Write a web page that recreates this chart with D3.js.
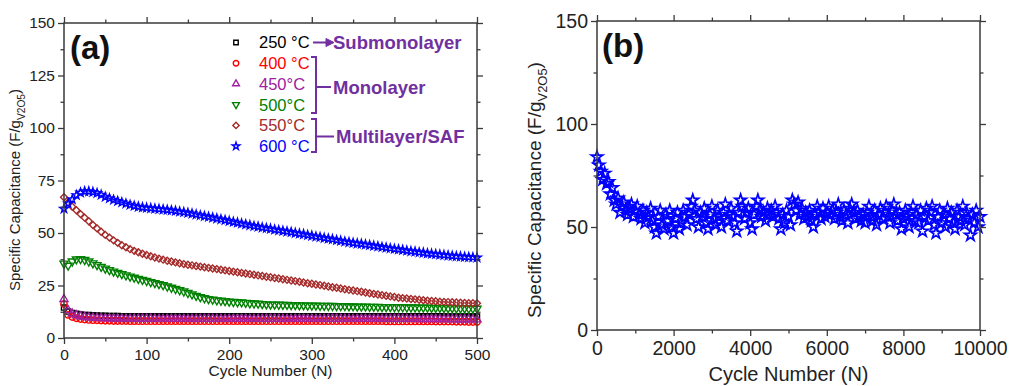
<!DOCTYPE html>
<html><head><meta charset="utf-8">
<script src="https://cdn.jsdelivr.net/npm/d3@7"></script>
<style>
body{margin:0;background:#fff;}
svg{display:block;font-family:"Liberation Sans",Arial,sans-serif;}
</style>
</head><body>
<svg id="chart" width="1009" height="386"></svg>
<script>
// ---------------- Panel (a) data ----------------
const cyclesA = d3.range(0, 501, 5);
const cap250 = [14.5,12.6,11.9,11.5,11.2,11,10.9,10.8,10.7,10.6,
10.6,10.5,10.5,10.5,10.4,10.4,10.4,10.4,10.3,10.3,
10.3,10.3,10.3,10.3,10.3,10.3,10.3,10.3,10.3,10.3,
10.3,10.3,10.3,10.3,10.3,10.3,10.3,10.3,10.3,10.3,
10.3,10.3,10.4,10.4,10.4,10.4,10.4,10.4,10.4,10.4,
10.4,10.4,10.4,10.4,10.4,10.4,10.4,10.4,10.4,10.4,
10.4,10.4,10.4,10.4,10.4,10.4,10.4,10.4,10.4,10.4,
10.3,10.3,10.3,10.3,10.3,10.3,10.3,10.3,10.3,10.3,
10.3,10.3,10.3,10.3,10.3,10.3,10.3,10.3,10.3,10.3,
10.3,10.3,10.2,10.2,10.2,10.2,10.2,10.2,10.2,10.2,
10.2];
const cap400 = [16.2,11,10,9.4,9,8.8,8.6,8.5,8.4,8.3,
8.2,8.2,8.1,8.1,8.1,8.1,8,8,8,8,
8,8,8,8,8,8,8,8,8,8,
8,8,8,8,8,8,8,8,8,8,
8,8,8,8,8,8,8,8,8,8,
8,8,8,8,8,8,8,8,8,8,
8,8,8,8,8,8,8,8,8,8,
8,8,8,8,8,8,8,8,7.9,7.9,
7.9,7.9,7.9,7.9,7.9,7.9,7.9,7.9,7.9,7.9,
7.8,7.8,7.8,7.8,7.8,7.7,7.7,7.7,7.6,7.6,
7.6];
const cap450 = [18.5,13.2,11.6,10.8,10.3,10,9.8,9.6,9.5,9.4,
9.3,9.3,9.2,9.2,9.2,9.1,9.1,9.1,9.1,9.1,
9.1,9.1,9.1,9,9,9,9,9,9,9,
9,9,9,9,9,9,9,9,9,9,
9,9,9,9,9,9,9,9,9,9,
9,9,9,9,9,9,9,9,9,9,
9,9,9,9,9,9,9,9,9,9,
9,9,9,9,9,9,9,9,9,9,
9,9,9,9,9,9,8.9,8.9,8.9,8.9,
8.9,8.9,8.9,8.9,8.9,8.8,8.8,8.8,8.8,8.8,
8.8];
const cap500 = [35.5,34.5,36.5,37.5,37.6,37.2,36.5,35.6,34.8,33.9,
33.1,32.4,31.7,31.1,30.5,29.9,29.3,28.8,28.2,27.7,
27.2,26.7,26.2,25.7,25.2,24.6,24,23.4,22.8,22.2,
21.5,20.8,20.1,19.5,19,18.6,18.3,18,17.8,17.6,
17.4,17.2,17.1,17,16.8,16.6,16.5,16.4,16.2,16.1,
16,16,15.9,15.8,15.8,15.7,15.7,15.6,15.6,15.5,
15.5,15.5,15.4,15.4,15.3,15.3,15.2,15.2,15.2,15.1,
15.1,15,15,15,14.9,14.9,14.9,14.8,14.8,14.8,
14.7,14.7,14.7,14.6,14.6,14.6,14.5,14.5,14.5,14.4,
14.4,14.4,14.3,14.3,14.3,14.2,14.2,14.2,14.1,14.1,
14];
const cap550 = [67,64.5,62.5,60.8,59,57.3,55.6,53.8,52.2,50.6,
49.1,47.8,46.5,45.3,44.2,43.2,42.3,41.5,40.8,40.1,
39.5,38.9,38.3,37.8,37.3,36.8,36.4,36,35.6,35.2,
34.9,34.6,34.3,34,33.7,33.4,33.1,32.8,32.5,32.2,
31.9,31.6,31.3,31,30.7,30.4,30.1,29.8,29.5,29.2,
28.9,28.6,28.3,28,27.7,27.4,27.1,26.8,26.4,26.1,
25.8,25.5,25.2,24.9,24.5,24.2,23.9,23.6,23.2,22.9,
22.6,22.3,22,21.7,21.3,21,20.7,20.4,20.1,19.8,
19.5,19.2,19,18.8,18.6,18.4,18.2,18,17.8,17.6,
17.5,17.3,17.2,17.1,17,16.9,16.8,16.7,16.6,16.6,
16.5];
const cap600 = [61.5,64,66,68,69.2,69.8,69.8,69.5,69,68.2,
67.2,66.5,65.8,65.2,64.6,64,63.4,62.9,62.5,62.2,
62,61.8,61.6,61.4,61.2,61,60.8,60.5,60.2,59.9,
59.6,59.2,58.8,58.4,58,57.7,57.3,56.9,56.5,56.1,
55.7,55.3,54.9,54.5,54.1,53.7,53.3,53,52.6,52.3,
52,51.6,51.3,51,50.7,50.4,50,49.7,49.4,49,
48.7,48.3,48,47.6,47.3,47,46.6,46.3,45.9,45.6,
45.3,45,44.8,44.5,44.2,43.9,43.6,43.3,43,42.7,
42.4,42.2,41.9,41.6,41.3,41.1,40.8,40.6,40.3,40.1,
39.9,39.7,39.5,39.3,39.1,38.9,38.8,38.6,38.5,38.4,
38.3];
const seriesLabels = ["250 \u00B0C","400 \u00B0C","450\u00B0C","500\u00B0C","550\u00B0C","600 \u00B0C"];
const seriesColors = ["#000000","#ff0000","#a020a0","#008000","#a52a2a","#0000ff"];
const seriesValues = [cap250, cap400, cap450, cap500, cap550, cap600];
const seriesShapes = ["square","circle","triangle","triangleDown","diamond","star"];
const xTicksA = [0,100,200,300,400,500];
const xMinorA = [50,150,250,350,450];
const yTicksA = [0,25,50,75,100,125,150];
const yMinorA = [12.5,37.5,62.5,87.5,112.5,137.5];
const groupLabels = ["Submonolayer","Monolayer","Multilayer/SAF"];

// ---------------- Panel (b) data ----------------
const cyclesB = d3.range(0, 10001, 50);
const cap600Long = [84,80,77,73,76,71,72,66,69,63,61,
64,57,60,62,58,56,59,61,55,58,
60,56,54,58,52,57,55,59,53,50,
47,55,58,51,49,56,53,58,50,47,
54,57,49,52,58,55,51,56,60,63,
58,54,50,57,55,59,52,49,56,60,
54,51,58,55,50,57,61,53,56,59,
55,52,48,57,63,60,54,57,59,52,
49,56,60,63,58,55,57,53,59,56,
58,55,60,57,54,49,56,52,58,55,
51,63,61,58,62,56,59,54,57,55,
58,53,50,56,60,57,54,59,55,57,
60,56,58,54,57,61,55,53,58,56,
52,59,61,57,54,58,55,53,56,52,
57,60,55,53,58,51,56,59,54,57,
60,55,52,58,61,56,53,57,49,54,
58,55,50,57,60,53,56,52,58,48,
55,59,53,57,60,51,47,55,58,52,
56,50,59,54,57,52,49,58,55,53,
60,51,57,54,46,56,52,58,50,55];
const xTicksB = [0,2000,4000,6000,8000,10000];
const xMinorB = [1000,3000,5000,7000,9000];
const yTicksB = [0,50,100,150];
const yMinorB = [25,75,125];

// ---------------- drawing ----------------
const svg = d3.select("#chart");
const axisColor = "#3a3a3a";
const purple = "#7030a0";

function symbolPath(shape, size) {
  const map = {square: d3.symbolSquare, circle: d3.symbolCircle, triangle: d3.symbolTriangle,
               triangleDown: d3.symbolTriangle, diamond: d3.symbolSquare, star: d3.symbolStar};
  return d3.symbol(map[shape], size)();
}
function symbolRotate(shape) {
  return shape === "triangleDown" ? " rotate(180)" : shape === "diamond" ? " rotate(45)" : "";
}

function frame(g, x, y, opt) {
  const [x0, x1] = x.range(), [y0, y1] = y.range();
  const major = 6, minor = 3.5;
  const addAxis = (gen, tr, vals, size, fmt, fs) => {
    const a = g.append("g").attr("transform", tr)
      .call(gen.tickValues(vals).tickSize(size).tickSizeOuter(0).tickPadding(3).tickFormat(fmt));
    a.select(".domain").remove();
    a.selectAll("line").attr("stroke", axisColor).attr("stroke-width", 1.3);
    a.selectAll("text").attr("fill", "#222").style("font-size", fs + "px").attr("font-family", "Liberation Sans, Arial, sans-serif");
    return a;
  };
  const none = () => "";
  addAxis(d3.axisBottom(x), `translate(0,${y0})`, opt.xMajor, major, d3.format("d"), opt.fs).selectAll("text").attr("dy", opt.xdy);
  addAxis(d3.axisBottom(x), `translate(0,${y0})`, opt.xMinor, minor, none, opt.fs);
  addAxis(d3.axisTop(x), `translate(0,${y1})`, opt.xMajor, major, none, opt.fs);
  addAxis(d3.axisTop(x), `translate(0,${y1})`, opt.xMinor, minor, none, opt.fs);
  addAxis(d3.axisLeft(y), `translate(${x0},0)`, opt.yMajor, major, d3.format("d"), opt.fs);
  addAxis(d3.axisLeft(y), `translate(${x0},0)`, opt.yMinor, minor, none, opt.fs);
  addAxis(d3.axisRight(y), `translate(${x1},0)`, opt.yMajor, major, none, opt.fs);
  addAxis(d3.axisRight(y), `translate(${x1},0)`, opt.yMinor, minor, none, opt.fs);
  g.append("rect").attr("x", x0).attr("y", y1).attr("width", x1 - x0).attr("height", y0 - y1)
    .attr("fill", "none").attr("stroke", axisColor).attr("stroke-width", 1.5);
}

function yTitle(g, cx, cy, fs) {
  const t = g.append("text").attr("transform", `translate(${cx},${cy}) rotate(-90)`)
    .attr("text-anchor", "middle").style("font-size", fs + "px").attr("fill", "#222");
  t.append("tspan").text("Specific Capacitance (F/g");
  t.append("tspan").text("V2O5").style("font-size", (fs * 0.68) + "px").attr("dy", fs * 0.3);
  t.append("tspan").text(")").attr("dy", -fs * 0.3);
}

// ----- Panel (a)
const xA = d3.scaleLinear().domain([0, 500]).range([64, 477]);
const yA = d3.scaleLinear().domain([0, 150]).range([338, 23]);
const gA = svg.append("g");

const markerSizeA = {square: 26, circle: 32, triangle: 28, triangleDown: 28, diamond: 24, star: 22};
seriesValues.forEach((vals, si) => {
  const shape = seriesShapes[si];
  const p = symbolPath(shape, markerSizeA[shape]);
  gA.append("g").selectAll("path").data(vals).join("path")
    .attr("d", p)
    .attr("transform", (d, i) => `translate(${xA(cyclesA[i])},${yA(d)})${symbolRotate(shape)}`)
    .attr("fill", "none").attr("stroke", seriesColors[si]).attr("stroke-width", 1.4);
});

frame(gA, xA, yA, {xMajor: xTicksA, xMinor: xMinorA, yMajor: yTicksA, yMinor: yMinorA, fs: 15.5, xdy: "0.85em"});

gA.append("text").attr("x", xA(250)).attr("y", 376).attr("text-anchor", "middle")
  .style("font-size", "15.5px").attr("fill", "#222").text("Cycle Number (N)");
yTitle(gA, 20, 190, 15);

gA.append("text").attr("x", 70).attr("y", 59).style("font-size", "33px").style("font-weight", "bold")
  .attr("fill", "#111").text("(a)");

// legend
const legY = [42.5, 63.3, 83.8, 104.6, 125.4, 146.2];
const leg = gA.append("g");
seriesLabels.forEach((lab, si) => {
  const shape = seriesShapes[si];
  const sz = shape === "star" ? 18 : shape === "circle" ? 24 : 20;
  leg.append("path").attr("d", symbolPath(shape, sz))
    .attr("transform", `translate(236,${legY[si]})${symbolRotate(shape)}`)
    .attr("fill", "none").attr("stroke", seriesColors[si]).attr("stroke-width", 1.4);
  leg.append("text").attr("x", 259).attr("y", legY[si]).attr("dy", "0.36em")
    .style("font-size", "16.5px").attr("fill", seriesColors[si]).text(lab);
});

// group annotations
const ann = gA.append("g").attr("stroke", purple).attr("fill", "none").attr("stroke-width", 2);
ann.append("line").attr("x1", 313).attr("x2", 328).attr("y1", 42.5).attr("y2", 42.5);
ann.append("path").attr("d", "M326,38.5 L334,42.5 L326,46.5 Z").attr("fill", purple).attr("stroke-width", 1);
ann.append("path").attr("d", "M311,57 H316 V113 H311 M316,87 H331");
ann.append("path").attr("d", "M311,119 H316 V152 H311 M316,136.5 H334");
const annText = [[333, 42.5], [333, 87], [336, 136.5]];
groupLabels.forEach((lab, i) => {
  gA.append("text").attr("x", annText[i][0]).attr("y", annText[i][1]).attr("dy", "0.36em")
    .style("font-size", "18.5px").style("font-weight", "bold").attr("fill", purple).text(lab);
});

// ----- Panel (b)
const xB = d3.scaleLinear().domain([0, 10000]).range([597, 980]);
const yB = d3.scaleLinear().domain([0, 150]).range([330, 21]);
const gB = svg.append("g");
gB.append("g").selectAll("path").data(cap600Long).join("path")
  .attr("d", symbolPath("star", 42))
  .attr("transform", (d, i) => `translate(${xB(cyclesB[i])},${yB(d)})`)
  .attr("fill", "none").attr("stroke", "#0000ff").attr("stroke-width", 1.7);

frame(gB, xB, yB, {xMajor: xTicksB, xMinor: xMinorB, yMajor: yTicksB, yMinor: yMinorB, fs: 19.5, xdy: "0.8em"});
gB.append("text").attr("x", xB(5000)).attr("y", 381).attr("text-anchor", "middle")
  .style("font-size", "20px").attr("fill", "#222").text("Cycle Number (N)");
yTitle(gB, 541, 190, 19);
gB.append("text").attr("x", 602).attr("y", 57).style("font-size", "33px").style("font-weight", "bold")
  .attr("fill", "#111").text("(b)");
</script>
</body></html>
